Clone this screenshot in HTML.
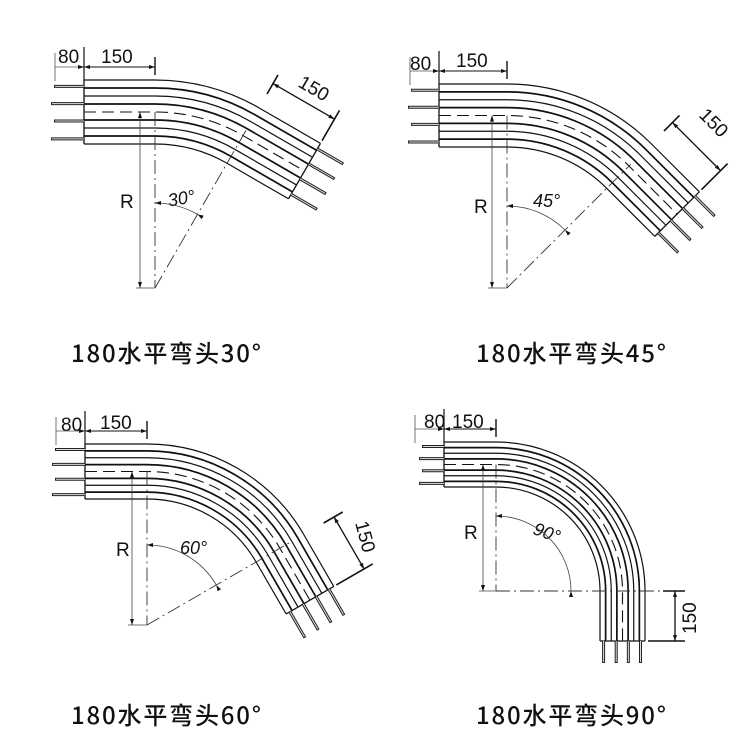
<!DOCTYPE html>
<html><head><meta charset="utf-8"><style>
html,body{margin:0;padding:0;background:#fff;width:750px;height:750px;overflow:hidden}
svg{display:block}
.lab{font-family:"Noto Sans CJK SC","Liberation Sans",sans-serif;font-size:24px;font-weight:500;fill:#111}
.dim{font-family:"Liberation Sans",sans-serif;font-size:19px;fill:#111}
.ang{font-family:"Liberation Sans",sans-serif;font-size:18px;fill:#111;font-style:italic}
</style></head><body>
<svg id="s" width="750" height="750" viewBox="0 0 750 750" xmlns="http://www.w3.org/2000/svg">
<text class="lab" x="71" y="362" textLength="190" lengthAdjust="spacing">180水平弯头30°</text>
<text class="lab" x="476" y="362" textLength="190" lengthAdjust="spacing">180水平弯头45°</text>
<text class="lab" x="71" y="724" textLength="190" lengthAdjust="spacing">180水平弯头60°</text>
<text class="lab" x="476" y="724" textLength="190" lengthAdjust="spacing">180水平弯头90°</text>
<text class="dim" x="58" y="63">80</text>
<text class="dim" x="101" y="63">150</text>
<text class="dim" x="410" y="70">80</text>
<text class="dim" x="456" y="67">150</text>
<text class="dim" x="61" y="431">80</text>
<text class="dim" x="100" y="429">150</text>
<text class="dim" x="424" y="428">80</text>
<text class="dim" x="452" y="428">150</text>
<text class="dim" x="120" y="208" fill="#333">R</text>
<text class="dim" x="474" y="213">R</text>
<text class="dim" x="116" y="556">R</text>
<text class="dim" x="464" y="539">R</text>
<text class="ang" x="168" y="205" transform="rotate(-10 178 200)">30°</text>
<text class="ang" x="533" y="207">45°</text>
<text class="ang" x="180" y="554">60°</text>
<text class="ang" x="533" y="538" transform="rotate(20 545 533)">90°</text>
<text class="dim" x="0" y="0" transform="translate(297 86) rotate(30)">150</text>
<text class="dim" x="0" y="0" transform="translate(698 116) rotate(45)">150</text>
<text class="dim" x="0" y="0" transform="translate(355 523) rotate(75)">150</text>
<text class="dim" x="0" y="0" transform="translate(696 634) rotate(-90)">150</text>
</svg>
<script>
var s=document.getElementById('s'),NS='http://www.w3.org/2000/svg';
function el(t,a){var e=document.createElementNS(NS,t);for(var k in a)e.setAttribute(k,a[k]);s.appendChild(e);return e;}
function ln(x1,y1,x2,y2,w,c,d){var a={x1:x1,y1:y1,x2:x2,y2:y2,stroke:c||'#111','stroke-width':w||1.3};if(d)a['stroke-dasharray']=d;el('line',a);}
function arrow(x,y,dx,dy){var L=6,W=2;var nx=-dy,ny=dx;el('polygon',{points:x+','+y+' '+(x-dx*L+nx*W)+','+(y-dy*L+ny*W)+' '+(x-dx*L-nx*W)+','+(y-dy*L-ny*W),fill:'#111'});}
function panel(p){
 var th=p.a*Math.PI/180,sn=Math.sin(th),cs=Math.cos(th),n=9,W=p.bot-p.top;
 var Ro=p.cy-p.top;
 for(var i=0;i<n;i++){
  var y=p.top+W*i/(n-1),r=p.cy-y;
  var ax=p.cx+r*sn,ay=p.cy-r*cs,ex=ax+p.L*cs,ey=ay+p.L*sn;
  var d='M'+p.left+' '+y+' L'+p.cx+' '+y+' A'+r+' '+r+' 0 0 1 '+ax+' '+ay+' L'+ex+' '+ey;
  var a={d:d,fill:'none',stroke:'#111','stroke-width':(i%2?1.7:1.2)};
  if(i==4){a['stroke-dasharray']='12 6';a['stroke-width']=1.1;}
  el('path',a);
 }
 ln(p.left,p.top,p.left,p.bot,1.3);
 var r0=Ro,r1=p.cy-p.bot;
 var e0x=p.cx+r0*sn+p.L*cs,e0y=p.cy-r0*cs+p.L*sn,e1x=p.cx+r1*sn+p.L*cs,e1y=p.cy-r1*cs+p.L*sn;
 ln(e0x,e0y,e1x,e1y,1.3);
 [0.1,0.37,0.64,0.92].forEach(function(f,k){
  var y=p.top+W*f,len=p.pin+(k%2?3:0);
  ln(p.left-len,y,p.left,y,3,'#222');
  ln(p.left-len+1,y,p.left,y,1,'#ddd');
  var r=p.cy-y,bx=p.cx+r*sn+p.L*cs,by=p.cy-r*cs+p.L*sn;
  ln(bx,by,bx+p.pin*cs,by+p.pin*sn,3,'#222');ln(bx,by,bx+(p.pin-1)*cs,by+(p.pin-1)*sn,1,'#ddd');
 });
 var dy=p.top-13;
 ln(p.left-29,dy-14,p.left-29,dy+14,0.8,'#555');
 ln(p.left,dy-20,p.left,p.top,1.2);
 ln(p.cx,dy-10,p.cx,dy+8,1.4);
 ln(p.left-29,dy,p.left,dy,0.8,'#555');ln(p.left,dy,p.cx,dy,1);
 arrow(p.left,dy,1,0);arrow(p.left,dy,-1,0);arrow(p.cx,dy,1,0);
 var ym=p.top+W/2;
 ln(p.cx,ym,p.cx,p.cy,0.9,'#333','14 4 2 4');
 ln(p.cx-p.rx,ym,p.cx-p.rx,p.cy,0.8,'#444');
 ln(p.cx-p.rx-4,p.cy,p.cx,p.cy,0.8,'#444');
 arrow(p.cx-p.rx,ym,0,-1);arrow(p.cx-p.rx,p.cy,0,1);
 var rl=p.cl;
 ln(p.cx,p.cy,p.cx+rl*sn,p.cy-rl*cs,0.9,'#333','14 4 2 4');
 var ra=p.ra;
 el('path',{d:'M'+p.cx+' '+(p.cy-ra)+' A'+ra+' '+ra+' 0 0 1 '+(p.cx+ra*sn)+' '+(p.cy-ra*cs),fill:'none',stroke:'#444','stroke-width':0.8});
 arrow(p.cx,p.cy-ra,-1,0);arrow(p.cx+ra*sn,p.cy-ra*cs,-cs,-sn);
 var nx=sn,ny=-cs,o=p.o;
 var sx=p.cx+r0*sn,sy=p.cy-r0*cs;
 ln(sx+nx*(o-12),sy+ny*(o-12),sx+nx*(o+10),sy+ny*(o+10),1.6);
 ln(e0x+nx*(3),e0y+ny*3,e0x+nx*(o+10),e0y+ny*(o+10),1.6);
 ln(sx+nx*o,sy+ny*o,e0x+nx*o,e0y+ny*o,1.3);
 arrow(sx+nx*o,sy+ny*o,-cs,-sn);arrow(e0x+nx*o,e0y+ny*o,cs,sn);
}
panel({a:30,left:84,cx:155,top:80,bot:144,cy:288,L:71,pin:30,rx:15,cl:185,ra:85,o:28});
panel({a:45,left:439,cx:507,top:84,bot:147,cy:288,L:68,pin:28,rx:15,cl:175,ra:82,o:30});
panel({a:60,left:85,cx:147,top:444,bot:499,cy:625,L:60,pin:30,rx:15,cl:165,ra:80,o:35});
panel({a:90,left:444,cx:496,top:442,bot:487,cy:591,L:50,pin:22,rx:13,cl:170,ra:75,o:30});
</script>
</body></html>
